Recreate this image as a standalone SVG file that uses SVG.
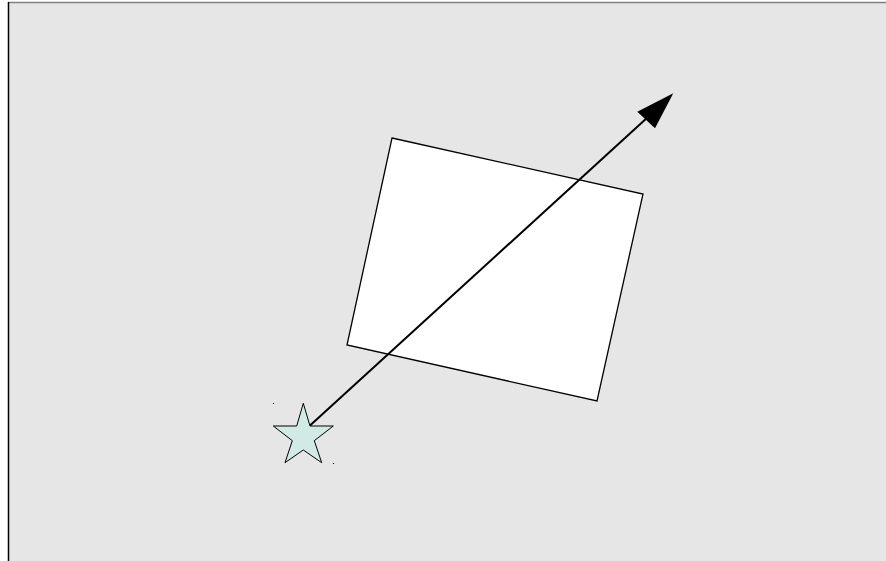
<svg xmlns="http://www.w3.org/2000/svg" width="886" height="561" viewBox="0 0 886 561">
<style>
.bg{fill:#e6e6e6}
.rect{fill:#ffffff;stroke:#000;stroke-width:1.3}
.star{fill:#d2eae6;stroke:#000;stroke-width:1}
.conn{stroke:#000;stroke-width:2;fill:none}
</style>
<g id="background">
<rect class="bg" x="9" y="3" width="877" height="558"/>
<line x1="8" y1="2.5" x2="886" y2="2.5" stroke="#808080" stroke-width="1.5"/>
<line x1="8.5" y1="2" x2="8.5" y2="561" stroke="#000" stroke-width="1.5"/>
</g>
<g id="rectangle">
<polygon class="rect" points="392,138 643,194 597,401 347,345"/>
</g>
<g id="star">
<polygon class="star" points="303.3,403.3 310,426 333.3,426 314.3,440.7 321.7,462.7 303.3,450 285,462.7 292.3,440.7 273.3,426 296.7,426"/>
<rect x="273" y="403" width="1" height="1" fill="#000"/>
<rect x="333" y="463" width="1" height="1" fill="#000"/>
</g>
<g id="connectors">
<line class="conn" x1="310" y1="425.5" x2="648" y2="117"/>
<polygon points="673.3,93.3 637.3,111.7 655,128.3" fill="#000"/>
</g>
</svg>
